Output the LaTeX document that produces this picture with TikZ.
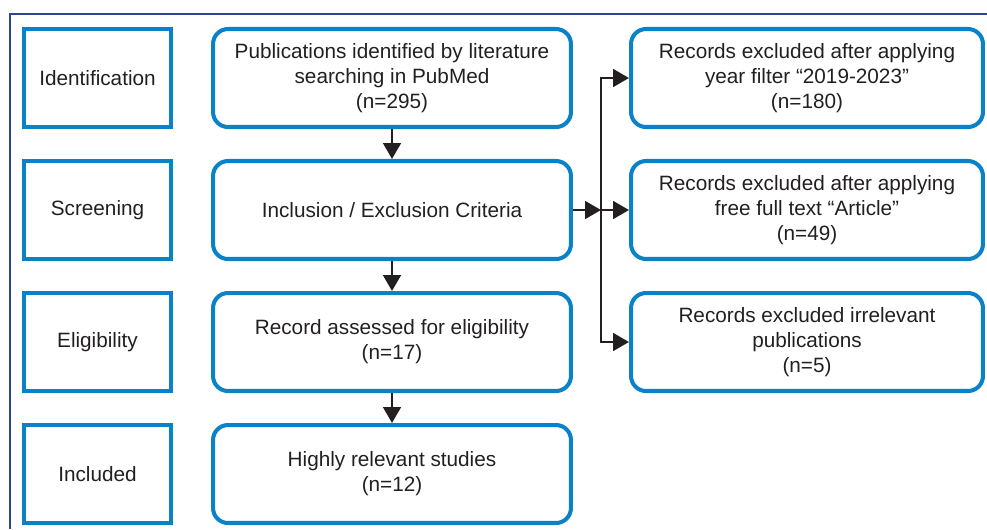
\documentclass[tikz,border=0pt]{standalone}
\usepackage{fontspec}
\setmainfont{Liberation Sans}
\usepackage{tikz}
\usetikzlibrary{arrows.meta}
\definecolor{boxblue}{RGB}{10,130,200}
\definecolor{framenavy}{RGB}{43,69,147}
\definecolor{inkgray}{RGB}{35,31,32}

\begin{document}
\begin{tikzpicture}[x=0.02cm,y=-0.02cm,-{Triangle[length=9pt,width=10pt]},line width=1.4pt,draw=inkgray]
			\tikzstyle{stage}=[draw=boxblue,line width=2.3pt,minimum width=2.94cm,minimum height=1.96cm,text=inkgray,font=\fontsize{11.8}{14.2}\selectfont,align=center]
			\tikzstyle{record}=[stage,rounded corners=0.3cm,minimum width=7.16cm]
			\tikzstyle{excluded}=[record,minimum width=7.04cm]
			\useasboundingbox (0,0) rectangle (987,529);
			\draw[-,framenavy,line width=1.2pt] (10,529) -- (10,14) -- (987,14);
			\node[stage] (L_1) at (97.5,78)  {Identification};
			\node[stage] (L_2) at (97.5,210) {Screening};
			\node[stage] (L_3) at (97.5,342) {Eligibility};
			\node[stage] (L_4) at (97.5,474) {Included};
			\node[record] (C_1) at (392,78)  {Publications identified by literature\\searching in PubMed\\(n=295)};
			\node[record] (C_2) at (392,210) {Inclusion / Exclusion Criteria};
			\node[record] (C_3) at (392,342) {Record assessed for eligibility\\(n=17)};
			\node[record] (C_4) at (392,474) {Highly relevant studies\\(n=12)};
			\node[excluded] (R_1) at (807,78)  {Records excluded after applying\\year filter “2019-2023”\\(n=180)};
			\node[excluded] (R_2) at (807,210) {Records excluded after applying\\free full text “Article”\\(n=49)};
			\node[excluded] (R_3) at (807,342) {Records excluded irrelevant\\publications\\(n=5)};
			\coordinate (S) at (601,210);
			\draw (C_1) -- (C_2);
			\draw (C_2) -- (C_3);
			\draw (C_3) -- (C_4);
			\draw (C_2) -- (S);
			\draw (S) -- (R_2);
			\draw (S) |- (R_1);
			\draw (S) |- (R_3);
			\end{tikzpicture}
\end{document}
